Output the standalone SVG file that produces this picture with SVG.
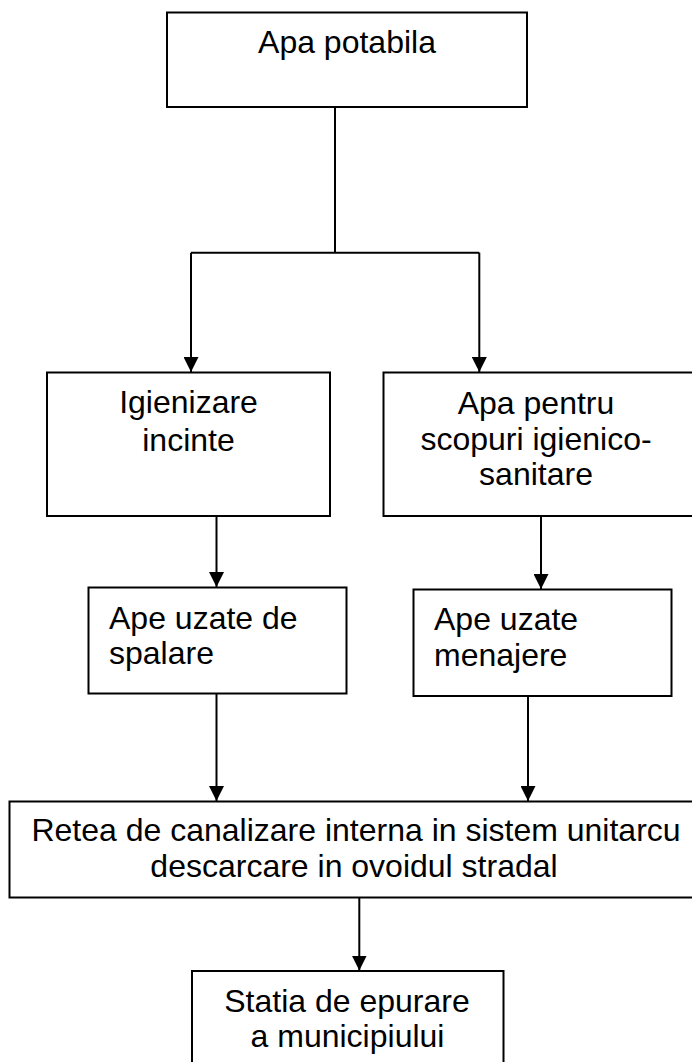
<svg xmlns="http://www.w3.org/2000/svg" width="692" height="1062" viewBox="0 0 692 1062">
<style>
.box{fill:#fff;stroke:#000;stroke-width:2}
.t{font-family:"Liberation Sans",Arial,sans-serif;font-size:32px;fill:#000}
.c{text-anchor:middle}
.ln{fill:none;stroke:#000;stroke-width:2}
</style>
<defs>
<marker id="arr" markerUnits="userSpaceOnUse" markerWidth="15" markerHeight="15" refX="15" refY="7.5" orient="auto">
<path d="M0,0 L15,7.5 L0,15 z" fill="#000"/>
</marker>
</defs>
<rect width="692" height="1062" fill="#fff"/>
<g id="connectors">
<path class="ln" d="M335,107 V252.7 M191,252.7 H479.3"/>
<path class="ln" d="M191,252.7 V372" marker-end="url(#arr)"/>
<path class="ln" d="M479.3,252.7 V372" marker-end="url(#arr)"/>
<path class="ln" d="M216.5,516 V587" marker-end="url(#arr)"/>
<path class="ln" d="M541,516 V589" marker-end="url(#arr)"/>
<path class="ln" d="M216.5,693.3 V801" marker-end="url(#arr)"/>
<path class="ln" d="M528,696 V801" marker-end="url(#arr)"/>
<path class="ln" d="M359.3,897 V970.5" marker-end="url(#arr)"/>
</g>
<g id="n-apa-potabila">
<rect class="box" x="167" y="12.5" width="360" height="94.5"/>
<text class="t c" x="347" y="53">Apa potabila</text>
</g>
<g id="n-igienizare">
<rect class="box" x="47" y="372.5" width="283" height="143.5"/>
<text class="t c" x="188.5" y="413">Igienizare</text>
<text class="t c" x="188.5" y="450.5">incinte</text>
</g>
<g id="n-apa-scopuri">
<rect class="box" x="383.5" y="372.5" width="330" height="143.5"/>
<text class="t c" x="536" y="414">Apa pentru</text>
<text class="t c" x="536" y="449.5">scopuri igienico-</text>
<text class="t c" x="536" y="485">sanitare</text>
</g>
<g id="n-ape-spalare">
<rect class="box" x="88.5" y="587.5" width="258" height="106"/>
<text class="t" x="109" y="628.5">Ape uzate de</text>
<text class="t" x="109" y="663.5">spalare</text>
</g>
<g id="n-ape-menajere">
<rect class="box" x="413.5" y="589.5" width="258" height="106.5"/>
<text class="t" x="434" y="630">Ape uzate</text>
<text class="t" x="434" y="666">menajere</text>
</g>
<g id="n-retea">
<rect class="box" x="9.5" y="801.5" width="700" height="96"/>
<text class="t c" x="356" y="841">Retea de canalizare interna in sistem unitarcu</text>
<text class="t c" x="354" y="877">descarcare in ovoidul stradal</text>
</g>
<g id="n-statia">
<rect class="box" x="192" y="971" width="311.5" height="120"/>
<text class="t c" x="347" y="1011.5">Statia de epurare</text>
<text class="t c" x="347.5" y="1046.5">a municipiului</text>
</g>
</svg>
